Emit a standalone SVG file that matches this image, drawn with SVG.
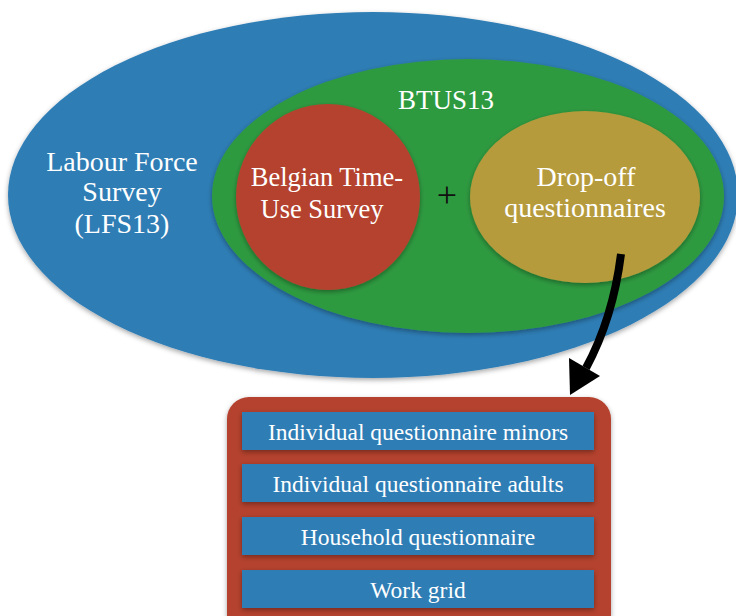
<svg xmlns="http://www.w3.org/2000/svg" width="736" height="616" viewBox="0 0 736 616">
  <style>
    .lbl { font-family: "Liberation Serif", "Times New Roman", serif; fill: #ffffff; text-anchor: middle; }
    .big { font-size: 28px; }
    .bar-lbl { font-size: 23.5px; }
    .blue { fill: #2e7db5; }
    .bar { fill: #2e7db5; filter: url(#shadow); }
  </style>
  <defs>
    <filter id="shadow" x="-10%" y="-10%" width="120%" height="130%">
      <feDropShadow dx="0" dy="2" stdDeviation="2.5" flood-color="#000" flood-opacity="0.35"/>
    </filter>
  </defs>
  <rect width="736" height="616" fill="#ffffff"/>

  <!-- Outer survey: LFS13 -->
  <g id="lfs13">
    <ellipse cx="373" cy="195" rx="365" ry="183" class="blue" filter="url(#shadow)"/>
    <text class="lbl big" x="122" y="171">Labour Force</text>
    <text class="lbl big" x="122" y="201">Survey</text>
    <text class="lbl big" x="122" y="233">(LFS13)</text>
  </g>

  <!-- BTUS13 -->
  <g id="btus13">
    <ellipse cx="468" cy="196" rx="256" ry="137" fill="#2f9a40" filter="url(#shadow)"/>
    <text class="lbl" font-size="27" x="446" y="109">BTUS13</text>
  </g>

  <!-- Belgian Time-Use Survey -->
  <g id="btus">
    <ellipse cx="328" cy="197" rx="92" ry="93" fill="#b4432f" filter="url(#shadow)"/>
    <text class="lbl" font-size="26.5" x="327" y="186">Belgian Time-</text>
    <text class="lbl" font-size="26.5" x="322" y="218">Use Survey</text>
  </g>

  <!-- plus sign -->
  <text id="plus" x="447" y="207" font-family="Liberation Serif, serif" font-size="36" fill="#111" text-anchor="middle">+</text>

  <!-- Drop-off questionnaires -->
  <g id="dropoff">
    <ellipse cx="585" cy="197" rx="115" ry="86" fill="#b69b3d" filter="url(#shadow)"/>
    <text class="lbl big" x="586" y="186">Drop-off</text>
    <text class="lbl big" x="585" y="217">questionnaires</text>
  </g>

  <!-- Connector -->
  <g id="connectors">
    <path d="M 621 254 Q 613 318 586 368" fill="none" stroke="#000" stroke-width="8"/>
    <polygon points="570,395 569,358 600,376" fill="#000"/>
  </g>

  <!-- Questionnaire list -->
  <g id="questionnaires">
    <rect x="227" y="397" width="384" height="240" rx="22" fill="#b4432f" filter="url(#shadow)"/>
  </g>
  <g id="q-minors">
    <rect class="bar" x="242" y="412" width="352" height="38"/>
    <text class="lbl bar-lbl" x="418" y="440">Individual questionnaire minors</text>
  </g>
  <g id="q-adults">
    <rect class="bar" x="242" y="464" width="352" height="38"/>
    <text class="lbl bar-lbl" x="418" y="492">Individual questionnaire adults</text>
  </g>
  <g id="q-household">
    <rect class="bar" x="242" y="517" width="352" height="38"/>
    <text class="lbl bar-lbl" x="418" y="545">Household questionnaire</text>
  </g>
  <g id="q-workgrid">
    <rect class="bar" x="242" y="570" width="352" height="38"/>
    <text class="lbl bar-lbl" x="418" y="598">Work grid</text>
  </g>
</svg>
